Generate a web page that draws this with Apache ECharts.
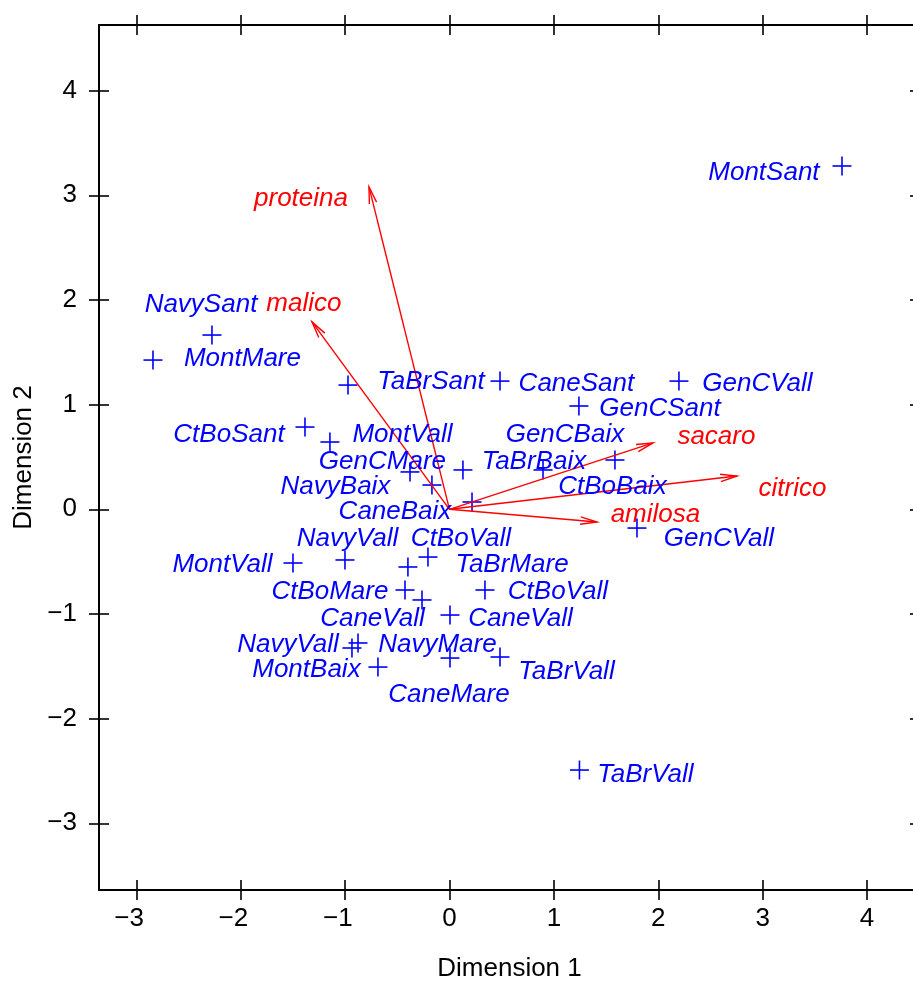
<!DOCTYPE html>
<html><head><meta charset="utf-8">
<script src="https://cdn.jsdelivr.net/npm/echarts@6/dist/echarts.min.js"></script>
<style>html,body{margin:0;padding:0;background:#fff;overflow:hidden;width:913px;height:981px}#c{width:930px;height:981px}</style>
</head><body><div id="c"></div>
<script>
// ---- tick values ----
const xTicks = [-3, -2, -1, 0, 1, 2, 3, 4];
const yTicks = [-3, -2, -1, 0, 1, 2, 3, 4];

// ---- observation points (+ markers) ----
const pointX = [3.760, -2.275, -2.840, -0.972, 0.484, 2.198, 1.240, -1.384, -1.145, 0.129,
                -0.378, -0.168, 0.216, 0.896, 1.585, 1.796, -1.499, -1.001, -0.398, -0.206,
                -0.426, -0.263, 0.340, 0.005, -0.934, -0.876, 0.005, 0.484, -0.685, 1.245];
const pointY = [3.280, 1.665, 1.426, 1.187, 1.225, 1.225, 0.987, 0.786, 0.643, 0.376,
                0.357, 0.232, 0.070, 0.376, 0.471, -0.179, -0.513, -0.484, -0.551, -0.456,
                -0.771, -0.866, -0.771, -1.010, -1.325, -1.277, -1.421, -1.411, -1.507, -2.491];

// ---- observation labels (text centres) ----
const labelNames = ['MontSant', 'NavySant', 'MontMare', 'TaBrSant', 'CaneSant', 'GenCVall', 'GenCSant',
                    'CtBoSant', 'MontVall', 'GenCBaix', 'GenCMare', 'TaBrBaix', 'NavyBaix', 'CtBoBaix',
                    'CaneBaix', 'GenCVall', 'NavyVall', 'CtBoVall', 'MontVall', 'TaBrMare', 'CtBoMare',
                    'CtBoVall', 'CaneVall', 'CaneVall', 'NavyVall', 'NavyMare', 'MontBaix', 'TaBrVall',
                    'CaneMare', 'TaBrVall'];
const labelX = [3.012, -2.380, -1.983, -0.177, 1.216, 2.950, 2.016,
                -2.112, -0.450, 1.106, -0.642, 0.809, -1.092, 1.561,
                -0.522, 2.581, -0.977, 0.110, -2.174, 0.599, -1.145,
                1.039, -0.738, 0.680, -1.547, -0.115, -1.370, 1.121,
                -0.005, 1.877];
const labelY = [3.237, 1.973, 1.455, 1.235, 1.216, 1.216, 0.977,
                0.729, 0.729, 0.729, 0.471, 0.471, 0.232, 0.232,
                -0.007, -0.265, -0.265, -0.265, -0.513, -0.513, -0.771,
                -0.771, -1.029, -1.029, -1.277, -1.277, -1.516, -1.535,
                -1.755, -2.521];

// ---- variable vectors (red arrows) ----
const varNames = ['proteina', 'malico', 'sacaro', 'citrico', 'amilosa'];
const varX = [-0.771, -1.317, 1.949, 2.754, 1.413];
const varY = [3.080, 1.790, 0.634, 0.318, -0.121];
const varLabelX = [-1.422, -1.394, 2.557, 3.285, 1.973];
const varLabelY = [2.982, 1.982, 0.711, 0.213, -0.035];

const xMin = -3.357, xMax = 4.507, yMin = -3.637, yMax = 4.627;
const FONT = '"Liberation Sans", Arial, Helvetica, sans-serif';
const FS = 26;

function fmtX(v) { return v < 0 ? '\u2212' + Math.abs(v) + '\u2007' : String(v); }
function fmtY(v) { return v < 0 ? '\u2212' + Math.abs(v) : String(v); }

function makeAxis(dim, pos, inside, withLabel) {
  const ticks = dim === 'x' ? xTicks : yTicks;
  return {
    type: 'value', position: pos,
    min: dim === 'x' ? xMin : yMin, max: dim === 'x' ? xMax : yMax,
    axisLine: { show: !inside, onZero: false, lineStyle: { color: '#000', width: 2 } },
    axisTick: { show: true, inside: inside, length: 10, customValues: ticks, lineStyle: { color: '#000', width: 1.6 } },
    axisLabel: { show: withLabel, customValues: ticks, formatter: dim === 'x' ? fmtX : fmtY,
                 color: '#000', fontFamily: FONT, fontSize: FS, margin: dim === 'x' ? 16 : 22 },
    splitLine: { show: false }
  };
}

const xAxes = [makeAxis('x', 'bottom', false, true), makeAxis('x', 'bottom', true, false),
               makeAxis('x', 'top', false, false), makeAxis('x', 'top', true, false)];
xAxes[0].name = 'Dimension 1';
xAxes[0].nameLocation = 'middle';
xAxes[0].nameGap = 66;
xAxes[0].nameTextStyle = { color: '#000', fontFamily: FONT, fontSize: FS };
const yAxes = [makeAxis('y', 'left', false, true), makeAxis('y', 'left', true, false),
               makeAxis('y', 'right', false, false), makeAxis('y', 'right', true, false)];
yAxes[0].name = 'Dimension 2';
yAxes[0].nameLocation = 'middle';
yAxes[0].nameGap = 60;
yAxes[0].nameTextStyle = { color: '#000', fontFamily: FONT, fontSize: FS };

const TEXT_DY = 2;

const chart = echarts.init(document.getElementById('c'), null, { renderer: 'canvas' });
chart.setOption({
  animation: false,
  backgroundColor: '#fff',
  grid: { left: 99, top: 25, right: 10, bottom: 91, containLabel: false, outerBoundsMode: 'none' },
  xAxis: xAxes,
  yAxis: yAxes,
  series: [
    {
      type: 'custom', name: 'points', xAxisIndex: 0, yAxisIndex: 0, silent: true,
      data: pointX.map((x, i) => [x, pointY[i]]),
      renderItem: function (params, api) {
        const p = api.coord([api.value(0), api.value(1)]);
        const h = 9.5;
        return { type: 'group', children: [
          { type: 'line', shape: { x1: p[0] - h, y1: p[1], x2: p[0] + h, y2: p[1] }, style: { stroke: '#0000ff', lineWidth: 1.6 } },
          { type: 'line', shape: { x1: p[0], y1: p[1] - h, x2: p[0], y2: p[1] + h }, style: { stroke: '#0000ff', lineWidth: 1.6 } }
        ] };
      }
    },
    {
      type: 'custom', name: 'arrows', xAxisIndex: 0, yAxisIndex: 0, silent: true,
      data: varX.map((x, i) => [x, varY[i]]),
      renderItem: function (params, api) {
        const o = api.coord([0, 0]);
        const p = api.coord([api.value(0), api.value(1)]);
        const ang = Math.atan2(p[1] - o[1], p[0] - o[0]);
        const L = 17, a = 0.22;
        const h1 = [p[0] - L * Math.cos(ang - a), p[1] - L * Math.sin(ang - a)];
        const h2 = [p[0] - L * Math.cos(ang + a), p[1] - L * Math.sin(ang + a)];
        return { type: 'group', children: [
          { type: 'line', shape: { x1: o[0], y1: o[1], x2: p[0], y2: p[1] }, style: { stroke: '#ff0000', lineWidth: 1.4 } },
          { type: 'polyline', shape: { points: [h1, p, h2] }, style: { stroke: '#ff0000', fill: null, lineWidth: 1.4 } }
        ] };
      }
    },
    {
      type: 'custom', name: 'labels', xAxisIndex: 0, yAxisIndex: 0, silent: true,
      data: labelNames.map((n, i) => [labelX[i], labelY[i], n]),
      renderItem: function (params, api) {
        const p = api.coord([api.value(0), api.value(1)]);
        const t = labelNames[params.dataIndex];
        return { type: 'text', x: p[0], y: p[1] + TEXT_DY, style: {
          text: t, fill: '#0000ff', font: 'italic ' + FS + 'px ' + FONT,
          align: 'center', verticalAlign: 'middle', textAlign: 'center', textVerticalAlign: 'middle' } };
      }
    },
    {
      type: 'custom', name: 'varLabels', xAxisIndex: 0, yAxisIndex: 0, silent: true,
      data: varNames.map((n, i) => [varLabelX[i], varLabelY[i], n]),
      renderItem: function (params, api) {
        const p = api.coord([api.value(0), api.value(1)]);
        const t = varNames[params.dataIndex];
        return { type: 'text', x: p[0], y: p[1] + TEXT_DY, style: {
          text: t, fill: '#ff0000', font: 'italic ' + FS + 'px ' + FONT,
          align: 'center', verticalAlign: 'middle', textAlign: 'center', textVerticalAlign: 'middle' } };
      }
    }
  ]
});
</script>
</body></html>
